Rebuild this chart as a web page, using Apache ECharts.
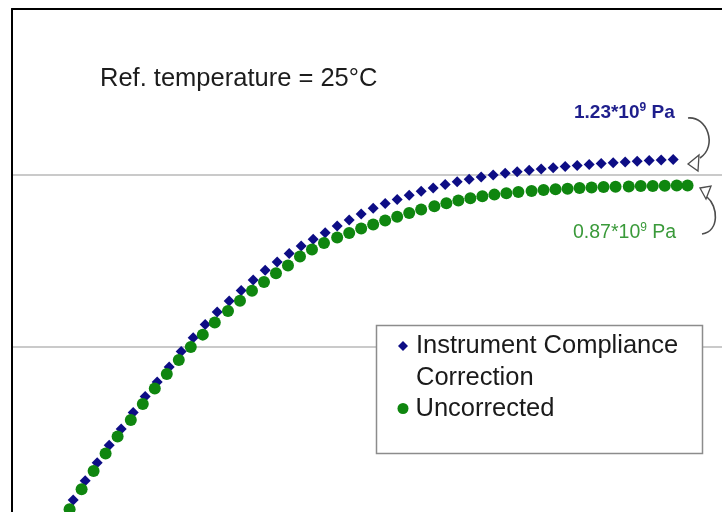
<!DOCTYPE html>
<html>
<head>
<meta charset="utf-8">
<script src="https://cdn.jsdelivr.net/npm/echarts@6/dist/echarts.min.js"></script>
<style>
  html, body { margin: 0; padding: 0; background: #fff; }
  #chart { width: 722px; height: 512px; }
</style>
</head>
<body>
<div id="chart"></div>
<script>
// Master curve of storage modulus (Pa) against log10 of reduced frequency
const SERIES_NAMES = ['Instrument Compliance Correction', 'Uncorrected'];

const correctedX = [
  -4.49, -4.39, -4.29, -4.19, -4.09, -3.99, -3.89, -3.79, -3.69, -3.59,
  -3.49, -3.39, -3.29, -3.19, -3.09, -2.99, -2.89, -2.79, -2.69, -2.59,
  -2.49, -2.39, -2.29, -2.19, -2.09, -1.99, -1.89, -1.79, -1.69, -1.59,
  -1.49, -1.39, -1.29, -1.19, -1.09, -0.99, -0.89, -0.79, -0.69, -0.59,
  -0.49, -0.39, -0.29, -0.19, -0.09, 0.01, 0.11, 0.21, 0.31, 0.41, 0.51
];
const correctedY = [
  1.29e7, 1.67e7, 2.12e7, 2.68e7, 3.34e7, 4.16e7, 5.16e7, 6.26e7, 7.65e7, 9.42e7,
  1.13e8, 1.35e8, 1.60e8, 1.85e8, 2.13e8, 2.45e8, 2.79e8, 3.12e8, 3.50e8, 3.87e8,
  4.23e8, 4.62e8, 5.05e8, 5.47e8, 5.93e8, 6.40e8, 6.83e8, 7.21e8, 7.62e8, 8.04e8,
  8.40e8, 8.81e8, 9.13e8, 9.44e8, 9.74e8, 1.00e9, 1.023e9, 1.044e9, 1.065e9, 1.084e9,
  1.101e9, 1.119e9, 1.136e9, 1.151e9, 1.165e9, 1.177e9, 1.19e9, 1.203e9, 1.214e9, 1.222e9, 1.23e9
];

const uncorrectedX = [
  -4.52, -4.42, -4.32, -4.22, -4.12, -4.01, -3.91, -3.81, -3.71, -3.61,
  -3.51, -3.41, -3.31, -3.20, -3.10, -3.00, -2.90, -2.80, -2.70, -2.60,
  -2.50, -2.40, -2.29, -2.19, -2.09, -1.99, -1.89, -1.79, -1.69, -1.59,
  -1.48, -1.38, -1.28, -1.18, -1.08, -0.98, -0.88, -0.78, -0.67, -0.57,
  -0.47, -0.37, -0.27, -0.17, -0.07, 0.03, 0.14, 0.24, 0.34, 0.44, 0.54, 0.63
];
const uncorrectedY = [
  1.14e7, 1.49e7, 1.90e7, 2.40e7, 3.02e7, 3.76e7, 4.66e7, 5.74e7, 6.97e7, 8.40e7,
  1.00e8, 1.18e8, 1.39e8, 1.62e8, 1.86e8, 2.12e8, 2.39e8, 2.68e8, 2.98e8, 3.36e8,
  3.69e8, 4.02e8, 4.33e8, 4.60e8, 4.89e8, 5.15e8, 5.44e8, 5.72e8, 6.01e8, 6.30e8,
  6.58e8, 6.85e8, 7.10e8, 7.32e8, 7.52e8, 7.69e8, 7.84e8, 7.97e8, 8.07e8, 8.17e8,
  8.26e8, 8.33e8, 8.40e8, 8.46e8, 8.51e8, 8.55e8, 8.58e8, 8.62e8, 8.64e8, 8.67e8, 8.69e8, 8.70e8
];

// visible window of the axes
const Y_MIN = 1.098e7;
const Y_MAX = 9.23e9;
const X_MIN = -5;
const X_MAX = 0.917;

const BLUE = '#0d0d85';
const GREEN = '#0f860f';
const FONT = '"Liberation Sans", Arial, sans-serif';

const pairs = (xs, ys) => xs.map((x, i) => [x, ys[i]]);
const plateau = ys => (ys[ys.length - 1] / 1e9).toFixed(2);

const chart = echarts.init(document.getElementById('chart'), null, { renderer: 'canvas' });

chart.setOption({
  animation: false,
  backgroundColor: '#fff',
  grid: { left: 12, top: 9, right: 0, bottom: 0, containLabel: false },
  xAxis: {
    type: 'value', position: 'top', min: X_MIN, max: X_MAX,
    axisLine: { show: true, onZero: false, lineStyle: { color: '#000', width: 2 } },
    axisTick: { show: false }, axisLabel: { show: false }, splitLine: { show: false }
  },
  yAxis: {
    type: 'log', logBase: 10, min: Y_MIN, max: Y_MAX,
    axisLine: { show: true, onZero: false, lineStyle: { color: '#000', width: 2 } },
    axisTick: { show: false }, axisLabel: { show: false },
    splitLine: { show: true, showMaxLine: false, showMinLine: false, lineStyle: { color: '#b8b8b8', width: 1.6 } }
  },
  legend: [
    {
      data: [{ name: SERIES_NAMES[0], icon: 'diamond' }],
      orient: 'vertical', left: 398, top: 298, padding: 0, itemGap: 0,
      itemWidth: 10, itemHeight: 10, selectedMode: false,
      formatter: () => '\nInstrument Compliance\nCorrection',
      textStyle: { fontFamily: FONT, fontSize: 25.5, lineHeight: 32, color: '#1a1a1a', padding: [0, 0, 0, 3] }
    },
    {
      data: [{ name: SERIES_NAMES[1], icon: 'circle' }],
      orient: 'vertical', left: 397.5, top: 393, padding: 0, itemGap: 0,
      itemWidth: 11, itemHeight: 11, selectedMode: false,
      textStyle: { fontFamily: FONT, fontSize: 25.5, lineHeight: 31, color: '#1a1a1a', padding: [0, 0, 0, 2] }
    }
  ],
  series: [
    {
      name: SERIES_NAMES[0], type: 'scatter', symbol: 'diamond', symbolSize: 11,
      itemStyle: { color: BLUE, opacity: 1 },
      data: pairs(correctedX, correctedY), z: 2
    },
    {
      name: SERIES_NAMES[1], type: 'scatter', symbol: 'circle', symbolSize: 12,
      itemStyle: { color: GREEN, opacity: 1 },
      data: pairs(uncorrectedX, uncorrectedY), z: 3
    }
  ],
  graphic: [
    // legend frame
    {
      type: 'rect', z: 1, silent: true,
      shape: { x: 376.5, y: 325.5, width: 326, height: 128 },
      style: { fill: '#fff', stroke: '#8c8c8c', lineWidth: 1.5 }
    },
    {
      type: 'text', z: 5, silent: true,
      style: { x: 100, y: 79, text: 'Ref. temperature = 25°C', font: '25.5px ' + FONT, fill: '#1c1c1c', verticalAlign: 'middle' }
    },
    {
      type: 'text', z: 5, silent: true,
      style: {
        x: 574, y: 113, verticalAlign: 'middle',
        text: '{b|' + plateau(correctedY) + '*10}{s|9}{b| Pa}',
        rich: {
          b: { fontFamily: FONT, fontSize: 19, fontWeight: 'bold', fill: '#1e1e8c', lineHeight: 22 },
          s: { fontFamily: FONT, fontSize: 12, fontWeight: 'bold', fill: '#1e1e8c', verticalAlign: 'top', lineHeight: 22 }
        }
      }
    },
    {
      type: 'text', z: 5, silent: true,
      style: {
        x: 573, y: 233, verticalAlign: 'middle',
        text: '{b|' + plateau(uncorrectedY) + '*10}{s|9}{b| Pa}',
        rich: {
          b: { fontFamily: FONT, fontSize: 19.5, fill: '#3a9a3a', lineHeight: 22 },
          s: { fontFamily: FONT, fontSize: 12, fill: '#3a9a3a', verticalAlign: 'top', lineHeight: 22 }
        }
      }
    },
    // curved pointers to the plateau values
    {
      type: 'bezierCurve', z: 5, silent: true,
      shape: { x1: 688, y1: 118, cpx1: 707, cpy1: 116, cpx2: 718, cpy2: 146, x2: 700, y2: 158 },
      style: { stroke: '#4d4d4d', lineWidth: 1.6, fill: null }
    },
    {
      type: 'polygon', z: 5, silent: true,
      shape: { points: [[688, 164], [699, 155], [698, 171]] },
      style: { fill: '#fff', stroke: '#4d4d4d', lineWidth: 1.3 }
    },
    {
      type: 'bezierCurve', z: 5, silent: true,
      shape: { x1: 702, y1: 234, cpx1: 720, cpy1: 231, cpx2: 718, cpy2: 206, x2: 707, y2: 197 },
      style: { stroke: '#4d4d4d', lineWidth: 1.6, fill: null }
    },
    {
      type: 'polygon', z: 5, silent: true,
      shape: { points: [[700, 188], [711, 186], [706, 199]] },
      style: { fill: '#fff', stroke: '#4d4d4d', lineWidth: 1.3 }
    }
  ]
});
</script>
</body>
</html>
